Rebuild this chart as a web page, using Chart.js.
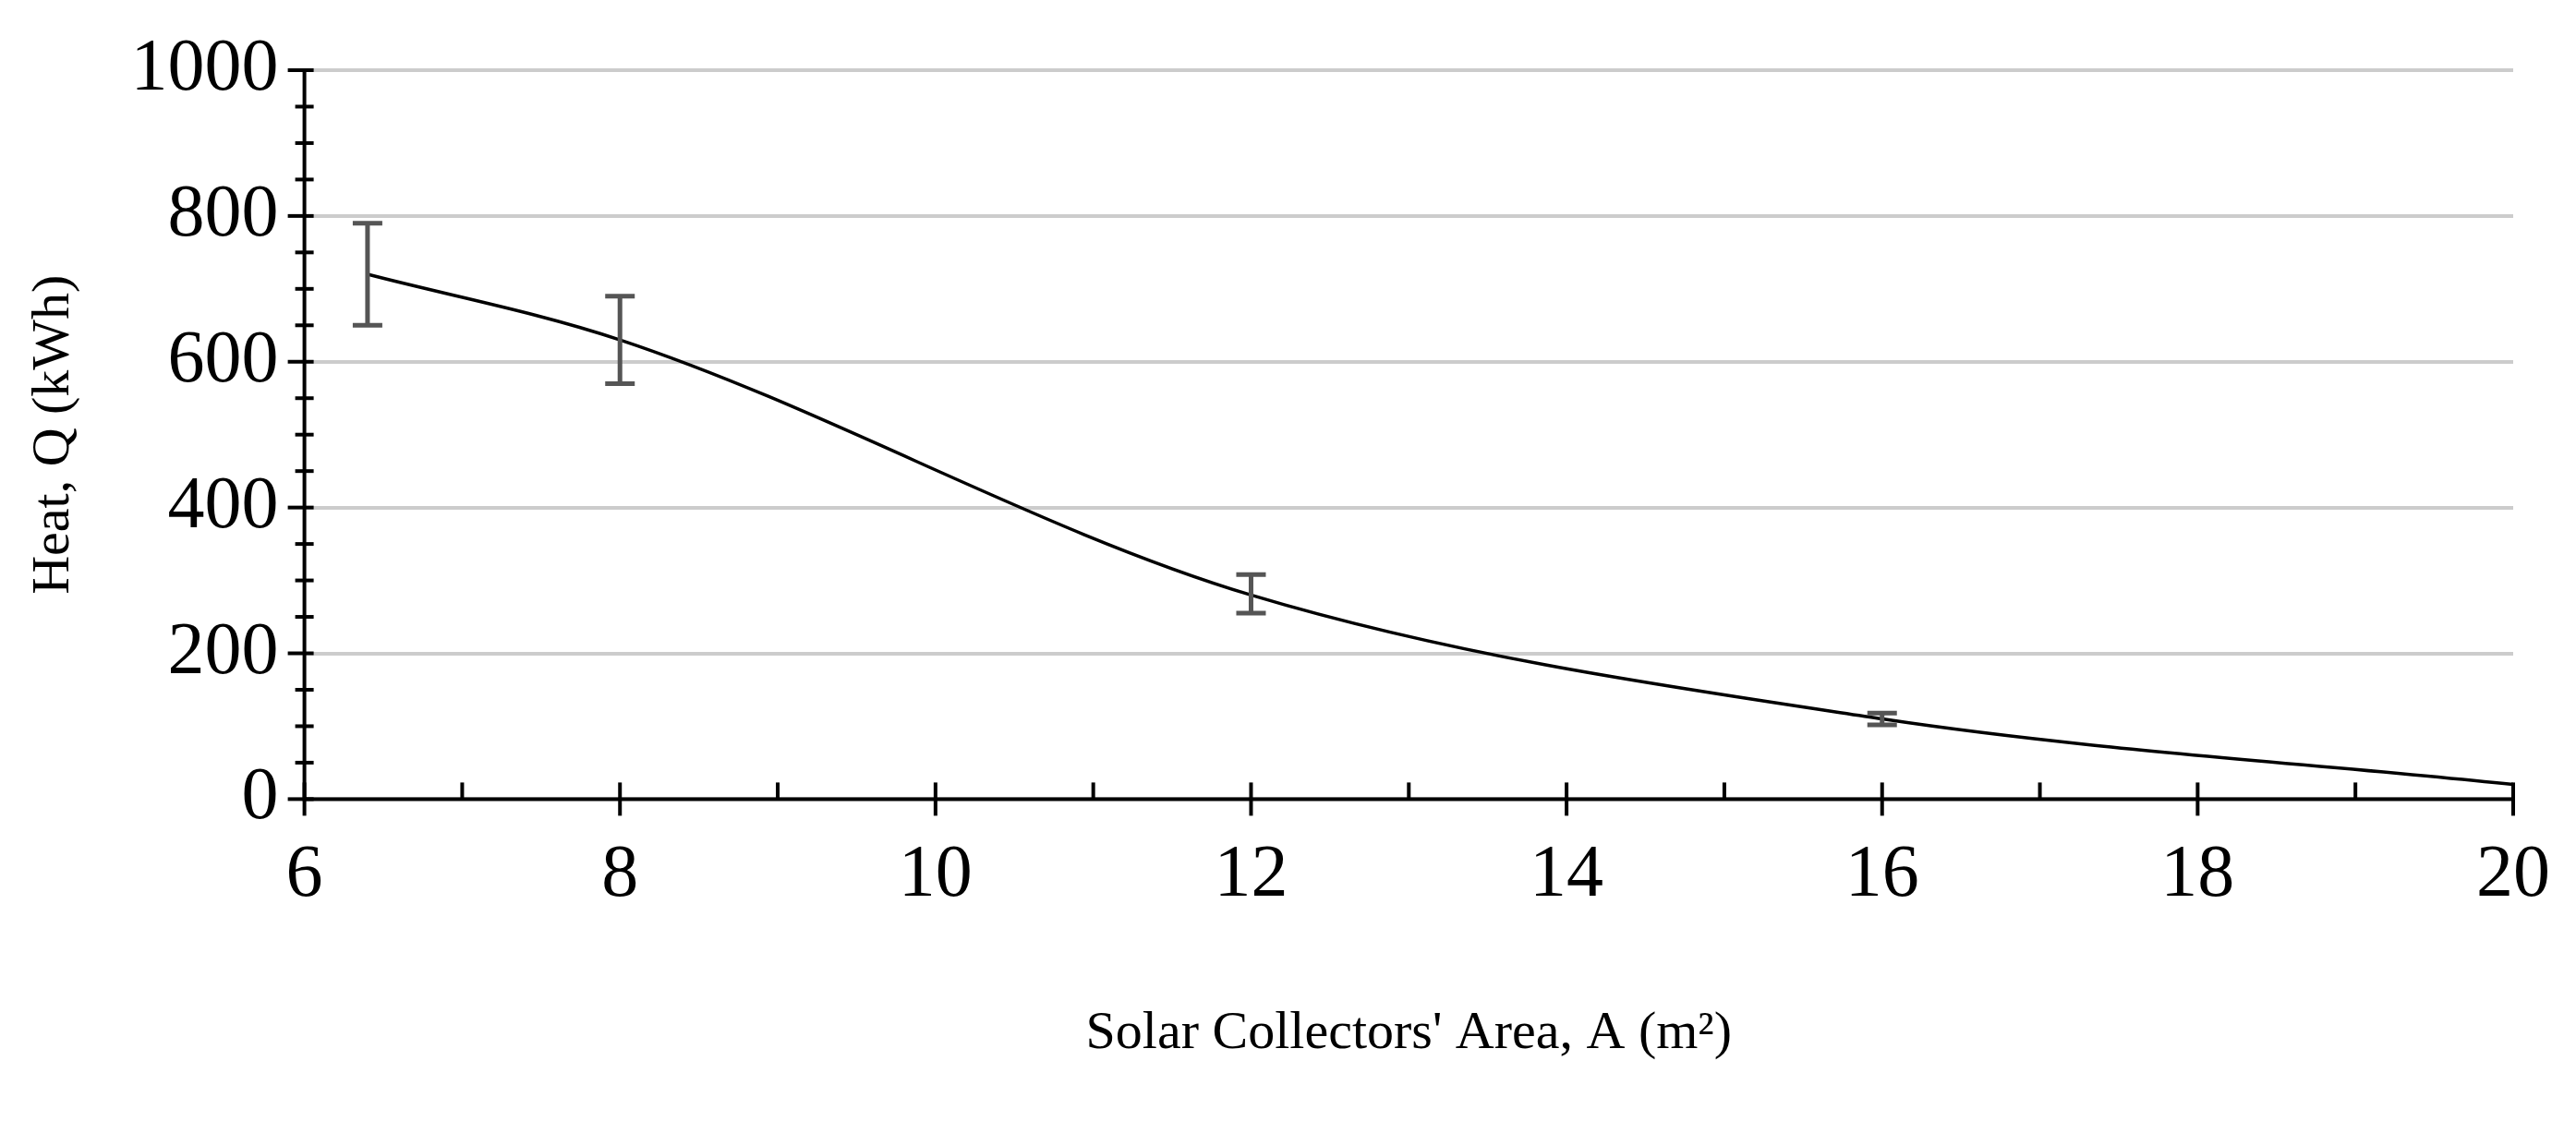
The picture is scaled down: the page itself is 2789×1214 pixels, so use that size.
<!DOCTYPE html>
<html><head><meta charset="utf-8">
<script src="https://cdn.jsdelivr.net/npm/chart.js@4/dist/chart.umd.min.js"></script>
<style>html,body{margin:0;background:#fff}#wrap{width:2789px;height:1214px}</style>
</head><body><div id="wrap"><canvas id="c"></canvas></div>
<script>
const areas = [6.4, 8, 12, 16, 20];
const heat = [720, 630, 280, 110, 20];
const errLow = [650, 570, 255, 102, 20];
const errHigh = [790, 690, 308, 118, 20];
const FONT = "'Liberation Serif', 'DejaVu Serif', serif";

const extras = {
  id: "extras",
  afterDatasetsDraw(chart){
    const {ctx, scales:{x, y}} = chart;
    ctx.save();
    ctx.strokeStyle = "#000"; ctx.lineWidth = 4;
    // axes
    ctx.beginPath();
    ctx.moveTo(x.left, y.getPixelForValue(1000)); ctx.lineTo(x.left, y.bottom);
    ctx.lineTo(x.right, y.bottom); ctx.stroke();
    // y ticks (major + minor)
    for(let v=0; v<=1000; v+=50){
      const p = y.getPixelForValue(v), major = v%200===0;
      ctx.beginPath(); ctx.moveTo(x.left-(major?18:10), p); ctx.lineTo(x.left+10, p); ctx.stroke();
    }
    // x ticks
    for(let v=6; v<=20; v+=1){
      const p = x.getPixelForValue(v), major = v%2===0;
      ctx.beginPath(); ctx.moveTo(p, y.bottom-18); ctx.lineTo(p, y.bottom+(major?18:0)); ctx.stroke();
    }
    // error bars
    ctx.strokeStyle = "#555"; ctx.lineWidth = 5;
    areas.forEach((a,i)=>{
      if(errHigh[i]===errLow[i]) return;
      const px = x.getPixelForValue(a), lo = y.getPixelForValue(errLow[i]), hi = y.getPixelForValue(errHigh[i]);
      ctx.beginPath();
      ctx.moveTo(px, lo); ctx.lineTo(px, hi);
      ctx.moveTo(px-16, lo); ctx.lineTo(px+16, lo);
      ctx.moveTo(px-16, hi); ctx.lineTo(px+16, hi);
      ctx.stroke();
    });
    ctx.restore();
  }
};

new Chart(document.getElementById("c"), {
  type: "line",
  data: { datasets: [{
    data: areas.map((a,i)=>({x:a, y:heat[i]})),
    borderColor: "#000", borderWidth: 3.5, pointRadius: 0, tension: 0.4,
    cubicInterpolationMode: "monotone"
  }]},
  options: {
    responsive: true, maintainAspectRatio: false, animation: false,
    layout: { padding: { left: 20, right: 55, top: 40, bottom: 55 } },
    plugins: { legend: {display:false}, tooltip: {enabled:false} },
    scales: {
      x: { type: "linear", min: 6, max: 20,
        ticks: { stepSize: 2, color: "#000", font: {family: FONT, size: 80}, padding: 28 },
        grid: { display: false }, border: { display: false },
        title: { display: true, text: "Solar Collectors' Area, A (m²)", color: "#000",
          font: {family: FONT, size: 58}, padding: {top: 60} } },
      y: { min: 0, max: 1000,
        ticks: { stepSize: 200, color: "#000", font: {family: FONT, size: 80}, padding: 28,
          callback: v => String(v) },
        grid: { color: "#cccccc", lineWidth: 4, drawTicks: false }, border: { display: false },
        title: { display: true, text: "Heat, Q (kWh)", color: "#000",
          font: {family: FONT, size: 58}, padding: {bottom: 20} } }
    }
  },
  plugins: [extras]
});
</script></body></html>
